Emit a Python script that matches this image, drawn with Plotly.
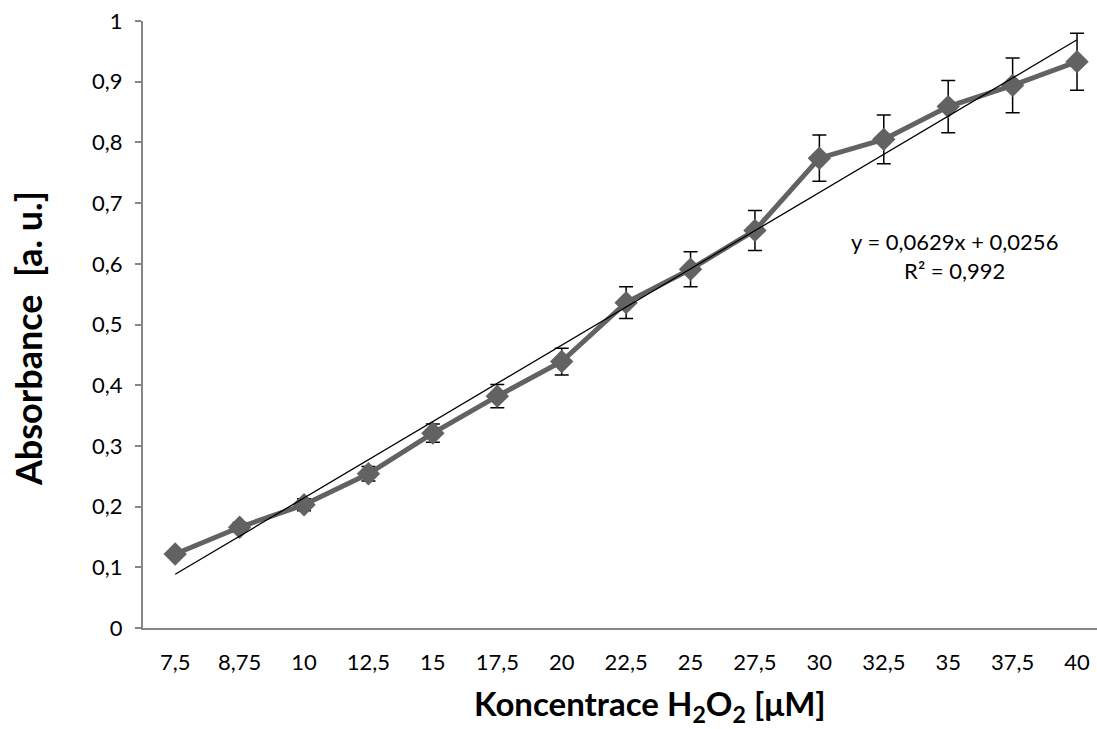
import plotly.graph_objects as go

categories = ["7,5", "8,75", "10", "12,5", "15", "17,5", "20", "22,5", "25", "27,5", "30", "32,5", "35", "37,5", "40"]
absorbance = [0.122, 0.166, 0.203, 0.254, 0.321, 0.382, 0.439, 0.536, 0.591, 0.655, 0.774, 0.805, 0.859, 0.894, 0.933]
errors = [0.005, 0.008, 0.010, 0.012, 0.015, 0.019, 0.022, 0.026, 0.029, 0.033, 0.038, 0.040, 0.043, 0.045, 0.047]
slope = 0.0629
intercept = 0.0256
y_ticks = [0, 0.1, 0.2, 0.3, 0.4, 0.5, 0.6, 0.7, 0.8, 0.9, 1]
y_tick_labels = ["0", "0,1", "0,2", "0,3", "0,4", "0,5", "0,6", "0,7", "0,8", "0,9", "1"]

idx = list(range(len(categories)))
trend_x = [idx[0], idx[-1]]
trend_y = [slope * (i + 1) + intercept for i in trend_x]

FONT = "Lato"

fig = go.Figure()
fig.add_trace(go.Scatter(
    x=idx, y=absorbance, mode="lines+markers",
    line=dict(color="#626262", width=5),
    marker=dict(symbol="diamond", size=18, color="#626262"),
    error_y=dict(type="data", array=errors, visible=True, color="black", thickness=1.5, width=7),
    showlegend=False, hoverinfo="skip",
))
fig.add_trace(go.Scatter(
    x=trend_x, y=trend_y, mode="lines",
    line=dict(color="black", width=1.3), showlegend=False, hoverinfo="skip",
))

fig.add_annotation(
    xref="x", yref="y", x=12.09, y=0.613,
    text="y = 0,0629x + 0,0256<br>R² = 0,992", showarrow=False,
    font=dict(family=FONT, size=22, color="black"), align="center",
)
# axis titles
fig.add_annotation(
    xref="paper", yref="paper", x=0.5314, y=-0.1285, xanchor="center", yanchor="middle",
    text="<b>Koncentrace H<sub>2</sub>O<sub>2</sub> [μM]</b>", showarrow=False,
    font=dict(family=FONT, size=33, color="black"),
)
fig.add_annotation(
    xref="paper", yref="paper", x=-0.1205, y=0.476, xanchor="center", yanchor="middle",
    text="<b>Absorbance  [a. u.]</b>", showarrow=False, textangle=-90,
    font=dict(family=FONT, size=36, color="black"),
)

fig.update_layout(
    width=1097, height=729,
    margin=dict(l=143, r=0, t=21, b=101),
    paper_bgcolor="white", plot_bgcolor="white",
    font=dict(family=FONT, color="black"),
    xaxis=dict(
        tickmode="array", tickvals=idx, ticktext=categories,
        range=[-0.5, 14.31], showgrid=False, zeroline=False,
        showline=True, linecolor="#868686", linewidth=2, ticks="",
        tickfont=dict(family=FONT, size=22, color="black"),
        ticklabelstandoff=14,
    ),
    yaxis=dict(
        range=[0, 1], tickmode="array", tickvals=y_ticks, ticktext=y_tick_labels,
        showgrid=False, zeroline=False,
        showline=True, linecolor="#868686", linewidth=2,
        ticks="outside", ticklen=6, tickcolor="#868686", tickwidth=2,
        tickfont=dict(family=FONT, size=22, color="black"),
        ticklabelstandoff=8,
    ),
)

fig.write_html("out.html", config={"displayModeBar": False},
               post_script="document.body.style.margin='0';")
